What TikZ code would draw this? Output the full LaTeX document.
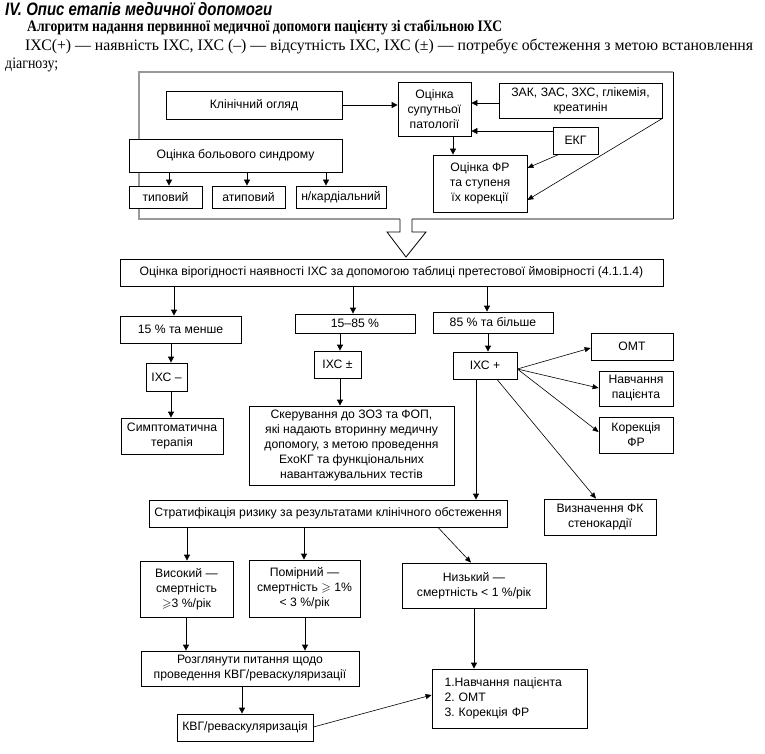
\documentclass[tikz,border=0pt]{standalone}
\usepackage{fontspec}
\usepackage{amssymb}
\usepackage{graphicx}
\setmainfont{Liberation Serif}
\newfontfamily\arial{Liberation Sans}
\usetikzlibrary{arrows.meta}
\frenchspacing
\newcommand\boxat[7][]{\node[bx,minimum width={(#5-#3)*1pt},minimum height={(#6-#4)*1pt},#1] (#2) at ({(#3+#5)/2},{(#4+#6)/2}) {#7};}
\begin{document}
\begin{tikzpicture}[x=1pt,y=-1pt,
  bx/.style={draw, fill=white, line width=0.8pt, inner sep=1pt, align=center, font=\arial\fontsize{12.2}{15}\selectfont},
  arr/.style={line width=0.8pt, -{Triangle[length=6pt,width=6pt]}},
  thinarr/.style={line width=0.6pt, -{Triangle[length=6pt,width=5pt]}},
  frame/.style={draw=black!40, line width=1.6pt},
  hdr/.style={anchor=base west, inner sep=0pt}]
\useasboundingbox (0,0) rectangle (765,754);
\fill[white] (0,0) rectangle (765,754);
% header
\node[hdr] (title) at (5,16) {\resizebox{267pt}{\height}{\arial\bfseries\itshape\fontsize{18}{20}\selectfont IV. Опис етапів медичної допомоги}};
\node[hdr] (sub) at (27,32) {\resizebox{475pt}{\height}{\bfseries\fontsize{16}{18}\selectfont Алгоритм надання первинної медичної допомоги пацієнту зі стабільною ІХС}};
\node[hdr] (leg) at (25,51) {\resizebox{728pt}{\height}{\fontsize{16}{18}\selectfont ІХС(+) — наявність ІХС, ІХС (–) — відсутність ІХС, ІХС (±) — потребує обстеження з метою встановлення}};
\node[hdr] (leg2) at (5,69) {\resizebox{53pt}{\height}{\fontsize{16}{18}\selectfont діагнозу;}};
% frame and hollow arrow
\draw[frame] (400,219) -- (139,219) -- (139,72) -- (673,72);
\draw[line width=0.8pt] (673,72) -- (673,219);
\draw[frame] (673,219) -- (412,219);
\draw[line width=0.8pt, line join=miter] (400,219) -- (400,232) -- (387,232) -- (406,257) -- (426,232) -- (412,232) -- (412,219);
% top section
\boxat{klin}{166}{91}{342}{119}{Клінічний огляд}
\boxat{sup}{398}{82}{471}{136}{Оцінка\\супутньої\\патології}
\boxat{zak}{499}{83}{662}{118}{ЗАК, ЗАС, ЗХС, глікемія,\\креатинін}
\boxat{ekg}{553}{127}{598}{154}{ЕКГ}
\boxat{fr}{433}{155}{527}{212}{Оцінка ФР\\та ступеня\\їх корекції}
\boxat{bol}{129}{139}{342}{172}{Оцінка больового синдрому}
\boxat{typ}{129}{186}{202}{208}{типовий}
\boxat{atyp}{212}{186}{285}{208}{атиповий}
\boxat{nkard}{296}{186}{386}{208}{н/кардіальний}
\draw[arr] (klin.east) -- (sup.west |- klin.east);
\draw[arr] (zak.west |- 0,103) -- (sup.east |- 0,103);
\draw[arr] (ekg.west |- 0,131) -- (sup.east |- 0,131);
\draw[arr] (sup.south -| 453,0) -- (fr.north -| 453,0);
\draw[thinarr] (ekg.south -| 559,0) -- (fr.east |- 0,168);
\draw[thinarr] (zak.south east) -- (fr.east |- 0,200);
\draw[arr] (bol.south -| 169,0) -- (typ.north -| 169,0);
\draw[arr] (bol.south -| 247,0) -- (atyp.north -| 247,0);
\draw[arr] (bol.south -| 326,0) -- (nkard.north -| 326,0);
% second section
\boxat{ver}{120}{259}{663}{286}{Оцінка вірогідності наявності ІХС за допомогою таблиці претестової ймовірності (4.1.1.4)}
\boxat{p15}{120}{316}{241}{343}{15 \% та менше}
\boxat{p1585}{295}{314}{415}{333}{15–85 \%}
\boxat{p85}{433}{312}{553}{333}{85 \% та більше}
\boxat{ihcm}{146}{363}{187}{391}{ІХС –}
\boxat{sympt}{121}{418}{223}{454}{Симптоматична\\терапія}
\boxat{ihcpm}{314}{351}{361}{378}{ІХС ±}
\boxat{sker}{249}{406}{454}{485}{Скерування до ЗОЗ та ФОП,\\які надають вторинну медичну\\допомогу, з метою проведення\\ЕхоКГ та функціональних\\навантажувальних тестів}
\boxat{ihcp}{453}{352}{517}{379}{ІХС +}
\boxat{omt}{591}{333}{673}{360}{ОМТ}
\boxat{navch}{599}{371}{673}{406}{Навчання\\пацієнта}
\boxat{kor}{599}{417}{673}{453}{Корекція\\ФР}
\boxat{vyzn}{544}{499}{656}{535}{Визначення ФК\\стенокардії}
\boxat{strat}{149}{500}{507}{527}{Стратифікація ризику за результатами клінічного обстеження}
\boxat{vys}{140}{561}{233}{617}{Високий —\\смертність\\$\geqslant$3 \%/рік}
\boxat{pom}{249}{560}{360}{617}{Помірний —\\смертність $\geqslant$ 1\%\\< 3 \%/рік}
\boxat{nyz}{402}{563}{546}{608}{Низький —\\смертність < 1 \%/рік}
\boxat{rozg}{141}{651}{359}{686}{Розглянути питання щодо\\проведення КВГ/реваскуляризації}
\boxat{kvg}{177}{714}{313}{741}{КВГ/реваскуляризація}
\node[bx, align=left, text width=130pt, inner xsep=12.5pt, minimum height=59pt] (list) at (509.5,698.5) {1.Навчання пацієнта\\2. ОМТ\\3. Корекція ФР};
\draw[arr] (ver.south -| 174,0) -- (p15.north -| 174,0);
\draw[arr] (ver.south -| 353,0) -- (p1585.north -| 353,0);
\draw[arr] (ver.south -| 487,0) -- (p85.north -| 487,0);
\draw[arr] (p15.south -| 171,0) -- (ihcm.north -| 171,0);
\draw[arr] (ihcm.south -| 171,0) -- (sympt.north -| 171,0);
\draw[arr] (p1585.south -| 340,0) -- (ihcpm.north -| 340,0);
\draw[arr] (ihcpm.south -| 340,0) -- (sker.north -| 340,0);
\draw[arr] (p85.south -| 488,0) -- (ihcp.north -| 488,0);
\draw[thinarr] (ihcp.east |- 0,369) -- (omt.west |- 0,348);
\draw[thinarr] (ihcp.east |- 0,369) -- (navch.west |- 0,388);
\draw[thinarr] (ihcp.east |- 0,369) -- (kor.west |- 0,432);
\draw[thinarr] (ihcp.south -| 497,0) -- (vyzn.north -| 596,0);
\draw[arr] (ihcp.south -| 476,0) -- (strat.north -| 476,0);
\draw[arr] (strat.south -| 187,0) -- (vys.north -| 187,0);
\draw[arr] (strat.south -| 304,0) -- (pom.north -| 304,0);
\draw[thinarr] (strat.south -| 438,0) -- (nyz.north -| 471,0);
\draw[arr] (vys.south -| 186,0) -- (rozg.north -| 186,0);
\draw[arr] (pom.south -| 305,0) -- (rozg.north -| 305,0);
\draw[arr] (rozg.south -| 242,0) -- (kvg.north -| 242,0);
\draw[arr] (nyz.south -| 474,0) -- (list.north -| 474,0);
\draw[thinarr] (kvg.east |- 0,727) -- (list.west |- 0,695);
\end{tikzpicture}
\end{document}
